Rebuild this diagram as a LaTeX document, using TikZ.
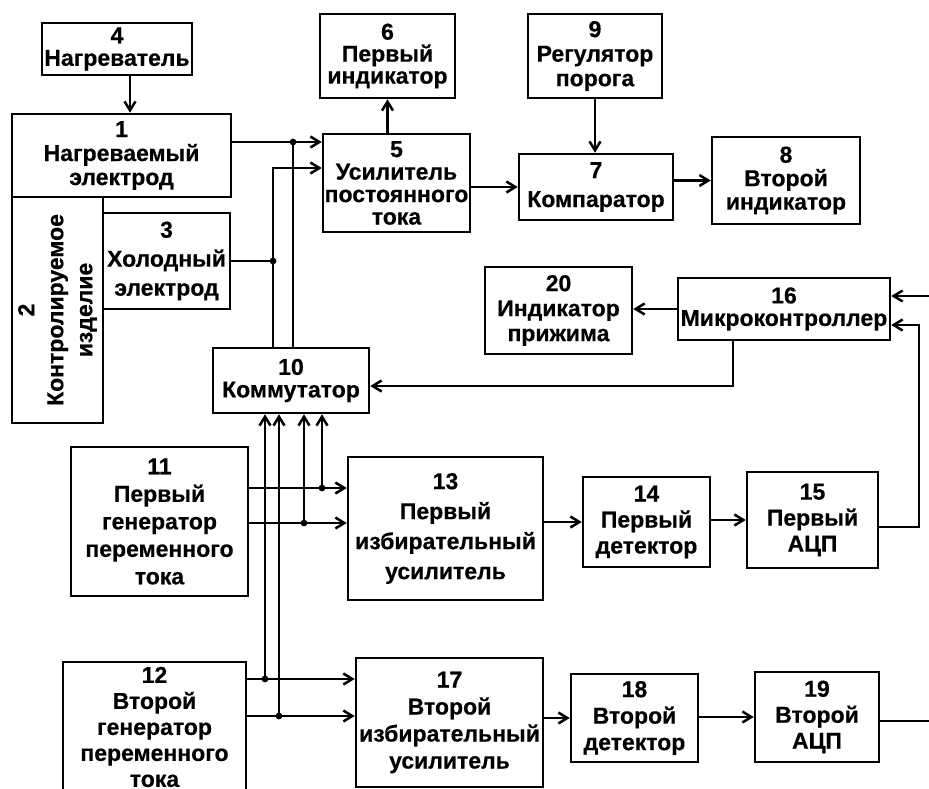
\documentclass[tikz,border=0pt]{standalone}
\usepackage{fontspec}
\setmainfont[FakeBold=0.5]{Liberation Sans}
\usetikzlibrary{arrows.meta, positioning}
\tikzset{
	every picture/.append style={line width = 2.5pt},
	>={Straight Barb[length=9pt,width=11pt]},
	font = \fontsize{23}{26}\selectfont\bfseries,
	blk/.style={
		draw,
		rectangle,
		align=center,
		inner sep=0pt
	},
	lead/.style={
		font=\fontsize{23}{#1}\selectfont\bfseries
	}
}

\begin{document}
\begin{tikzpicture}[x=1pt, y=-1pt]
		\useasboundingbox (0,0) rectangle (929,789);

		\node[blk, minimum width=150pt, minimum height=52pt, lead=22.5] at (117,49) (b4) {4\\Нагреватель};
		\node[blk, minimum width=219pt, minimum height=83pt, lead=24] at (121.5,155.5) (b1) {1\\Нагреваемый\\электрод};
		\node[blk, rotate=90, minimum width=226pt, minimum height=91pt, lead=29] at (57.5,310) (b2) {2\\Контролируемое\\изделие};
		\node[blk, minimum width=127pt, minimum height=96pt, lead=29] at (166.5,261) (b3) {3\\Холодный\\электрод};
		\node[blk, minimum width=147pt, minimum height=98pt, lead=22.5] at (396.5,183) (b5) {5\\Усилитель\\постоянного\\тока};
		\node[blk, minimum width=135pt, minimum height=84pt, lead=22] at (387.5,56) (b6) {6\\Первый\\индикатор};
		\node[blk, minimum width=154pt, minimum height=66pt, lead=29] at (596,187) (b7) {7\\Компаратор};
		\node[blk, minimum width=148pt, minimum height=87pt, lead=23.5] at (786,180.5) (b8) {8\\Второй\\индикатор};
		\node[blk, minimum width=134pt, minimum height=84pt, lead=24.5] at (595,56) (b9) {9\\Регулятор\\порога};
		\node[blk, minimum width=156pt, minimum height=65pt, lead=22.5] at (291,380.5) (b10) {10\\Коммутатор};

		\node[blk, minimum width=177pt, minimum height=149pt, lead=27.5] at (159.5,521.5) (b11) {11\\Первый\\генератор\\переменного\\тока};
		\node[blk, minimum width=183pt, minimum height=130pt, lead=26] at (154.5,727) (b12) {12\\Второй\\генератор\\переменного\\тока};
		\node[blk, minimum width=195pt, minimum height=143pt, lead=30] at (445.5,528.5) (b13) {13\\Первый\\избирательный\\усилитель};
		\node[blk, minimum width=127pt, minimum height=90pt, lead=26] at (646.5,522) (b14) {14\\Первый\\детектор};
		\node[blk, minimum width=131pt, minimum height=96pt, lead=26] at (812.5,520) (b15) {15\\Первый\\АЦП};
		\node[blk, minimum width=212pt, minimum height=62pt, lead=22.5] at (784,309) (b16) {16\\Микроконтроллер};
		\node[blk, minimum width=187pt, minimum height=129pt, lead=27] at (449.5,722.5) (b17) {17\\Второй\\избирательный\\усилитель};
		\node[blk, minimum width=127pt, minimum height=88pt, lead=26.5] at (634.5,718) (b18) {18\\Второй\\детектор};
		\node[blk, minimum width=124pt, minimum height=90pt, lead=26] at (817,717) (b19) {19\\Второй\\АЦП};
		\node[blk, minimum width=147pt, minimum height=87pt, lead=25] at (558.5,310.5) (b20) {20\\Индикатор\\прижима};

		\draw[->] ([xshift=13pt]b4.south) -- ([xshift=13pt]b4.south |- b1.north);
		\draw[->] (b6.south |- b5.north) -- (b6.south);
		\draw[->] (b9.south) -- (b9.south |- b7.north);
		\draw[->] (b5.east |- b7.west) -- (b7.west);
		\draw[->] (b7.east |- b8.west) -- (b8.west);

		\coordinate (j1) at (293,142);
		\coordinate (j2) at (273,261);
		\coordinate (c1) at (273,168);
		\draw[->] (b1.east |- j1) -- (b5.west |- j1);
		\draw (j1) -- (b10.north -| j1);
		\draw[->] (b10.north -| c1) -- (c1) -- (b5.west |- c1);
		\draw (b3.east |- j2) -- (j2);
		\fill (j1) circle (3.4pt) (j2) circle (3.4pt);

		\coordinate (c2) at (733,386);
		\coordinate (c3) at (919,527);
		\coordinate (c4) at (919,325);
		\coordinate (in16) at (929,296);
		\draw[->] (b16.south -| c2) -- (c2) -- (b10.east |- c2);
		\draw[->] (b16.west) -- (b20.east |- b16.west);
		\draw[->] (b15.east |- c3) -- (c3) -- (c4) -- (b16.east |- c4);
		\draw[->] (in16) -- (b16.east |- in16);

		\coordinate (d1) at (322,488);
		\coordinate (d2) at (304,523);
		\coordinate (d3) at (265,679);
		\coordinate (d4) at (279,716);
		\draw[->] (b11.east |- d1) -- (b13.west |- d1);
		\draw[->] (b11.east |- d2) -- (b13.west |- d2);
		\draw[->] (b12.east |- d3) -- (b17.west |- d3);
		\draw[->] (b12.east |- d4) -- (b17.west |- d4);
		\foreach \d in {d1,d2,d3,d4} {
			\draw[->] (\d) -- (b10.south -| \d);
			\fill (\d) circle (3.4pt);
		}

		\draw[->] (b13.east |- b14.west) -- (b14.west);
		\draw[->] (b14.east |- b15.west) -- (b15.west);
		\draw[->] (b17.east |- b18.west) -- (b18.west);
		\draw[->] (b18.east |- b19.west) -- (b19.west);
		\coordinate (out19) at (929,721);
		\draw (b19.east |- out19) -- (out19);
	\end{tikzpicture}
\end{document}
